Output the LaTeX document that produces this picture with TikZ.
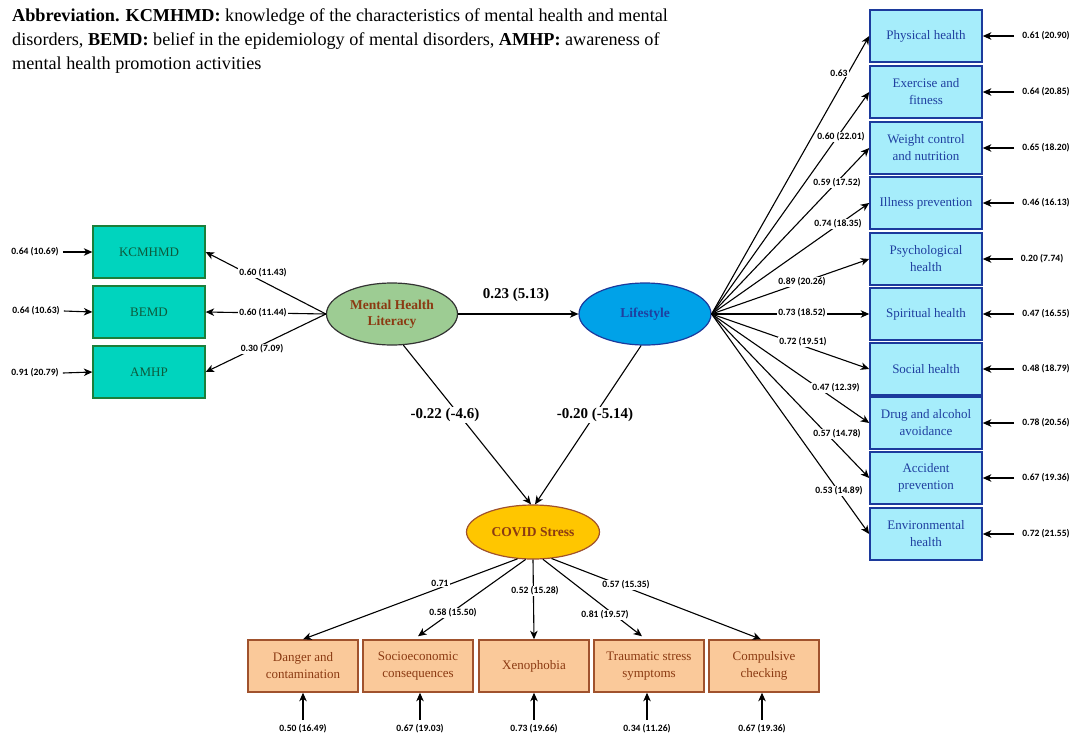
\documentclass[tikz,border=0pt]{standalone}
\usepackage{fontspec}
\setmainfont{Liberation Serif}
\newfontfamily\labfont{Carlito}
\usetikzlibrary{arrows.meta,shapes.geometric}
\definecolor{tealf}{HTML}{00D4BE}
\definecolor{tealbd}{HTML}{1B7F3A}
\definecolor{tealtx}{HTML}{0D5A3C}
\definecolor{cyanf}{HTML}{A6EDFB}
\definecolor{bluebd}{HTML}{1C3A9C}
\definecolor{bluetx}{HTML}{1F3FA0}
\definecolor{peach}{HTML}{FAC99A}
\definecolor{brownbd}{HTML}{A0522D}
\definecolor{browntx}{HTML}{8B3A12}
\definecolor{mhlf}{HTML}{9DCC93}
\definecolor{lsf}{HTML}{00A2E8}
\definecolor{csf}{HTML}{FFC600}
\tikzset{
  boxtext/.style={font=\fontsize{13}{17}\selectfont, align=center, inner sep=2pt},
  lbox/.style={boxtext, draw=tealbd, fill=tealf, line width=1.3pt, minimum width=112pt, minimum height=52pt, text=tealtx},
  rbox/.style={boxtext, draw=bluebd, fill=cyanf, line width=1.6pt, minimum width=112pt, minimum height=52pt, text=bluetx},
  bbox/.style={boxtext, draw=brownbd, fill=peach, line width=1.5pt, minimum width=110pt, minimum height=52pt, text=browntx},
  lat/.style={ellipse, line width=1.2pt, inner sep=0pt, align=center, font=\bfseries\fontsize{13.5}{16}\selectfont},
  lab/.style={font=\labfont\bfseries\fontsize{9.6}{11}\selectfont, inner sep=1pt},
  labw/.style={lab, fill=white},
  big/.style={font=\bfseries\fontsize{15}{17}\selectfont, inner sep=1.5pt, fill=white},
  arr/.style={-{Stealth[length=8.5pt,width=7.5pt,inset=2.5pt]}, line width=1.1pt}
}
\begin{document}
\begin{tikzpicture}[x=1pt,y=-1pt]
\useasboundingbox (0,0) rectangle (1071,737);
\node[anchor=north west, align=left, inner sep=0pt, font=\fontsize{18.2}{24}\selectfont] (abbr) at (12,8)
 {\textbf{Abbreviation. KCMHMD:} knowledge of the characteristics of mental health and mental\\
  disorders, \textbf{BEMD:} belief in the epidemiology of mental disorders, \textbf{AMHP:} awareness of\\
  mental health promotion activities};

% latent variables
\node[lat, draw=black!80, fill=mhlf, text=browntx, minimum width=131pt, minimum height=62pt] (mhl) at (392,314) {Mental Health\\Literacy};
\node[lat, draw=bluebd, fill=lsf, text=bluetx, minimum width=132pt, minimum height=62pt] (ls) at (645,314) {Lifestyle};
\node[lat, draw=brownbd, fill=csf, text=browntx, minimum width=133pt, minimum height=54pt] (cs) at (533,532) {COVID Stress};

% left boxes
\node[lbox] (kc) at (149,252) {KCMHMD};
\node[lbox] (be) at (149,312) {BEMD};
\node[lbox] (am) at (149,372) {AMHP};

% right boxes
\node[rbox] (r1) at (926,36) {Physical health};
\node[rbox] (r2) at (926,92) {Exercise and\\fitness};
\node[rbox] (r3) at (926,148) {Weight control\\and nutrition};
\node[rbox] (r4) at (926,203) {Illness prevention};
\node[rbox] (r5) at (926,259) {Psychological\\health};
\node[rbox] (r6) at (926,314) {Spiritual health};
\node[rbox] (r7) at (926,369) {Social health};
\node[rbox] (r8) at (926,423) {Drug and alcohol\\avoidance};
\node[rbox] (r9) at (926,478) {Accident\\prevention};
\node[rbox] (r10) at (926,534) {Environmental\\health};

% bottom boxes
\node[bbox] (b1) at (303,666) {Danger and\\contamination};
\node[bbox] (b2) at (418,666) {Socioeconomic\\consequences};
\node[bbox] (b3) at (534,666) {Xenophobia};
\node[bbox] (b4) at (649,666) {Traumatic stress\\symptoms};
\node[bbox] (b5) at (764,666) {Compulsive\\checking};

% structural paths
\draw[arr] (mhl.east) -- (ls.west);
\draw[arr] (mhl.290) -- ([xshift=-2pt]cs.north);
\draw[arr] (ls.263) -- ([xshift=2pt]cs.north);

% MHL indicators
\draw[arr] (mhl.west) -- (kc.east);
\draw[arr] (mhl.west) -- (be.east);
\draw[arr] (mhl.west) -- (am.east);

% Lifestyle indicators
\foreach \i in {1,...,10} {\draw[arr] (ls.east) -- (r\i.west);}

% COVID indicators
\draw[arr] (cs.240) -- (b1.north);
\draw[arr] (cs.255) -- ([yshift=3pt]b2.north);
\draw[arr] (cs.south) -- (b3.north);
\draw[arr] (cs.290) -- ([xshift=-7pt,yshift=3pt]b4.north);
\draw[arr] (cs.305) -- ([xshift=-3pt]b5.north);

% path labels
\node[big, fill=none] (p1) at (516,295) {0.23 (5.13)};
\node[big] (p2) at (445,415) {-0.22 (-4.6)};
\node[big] (p3) at (595,415) {-0.20 (-5.14)};

\node[labw] (lk1) at (263,273) {0.60 (11.43)};
\node[labw] (lk2) at (263,313) {0.60 (11.44)};
\node[labw] (lk3) at (262,349) {0.30 (7.09)};

\node[labw] (lr1) at (839,73) {0.63};
\node[labw] (lr2) at (841,137) {0.60 (22.01)};
\node[labw] (lr3) at (837,183) {0.59 (17.52)};
\node[labw] (lr4) at (838,224) {0.74 (18.35)};
\node[labw] (lr5) at (802,282) {0.89 (20.26)};
\node[labw] (lr6) at (802,313) {0.73 (18.52)};
\node[labw] (lr7) at (803,342) {0.72 (19.51)};
\node[labw] (lr8) at (836,388) {0.47 (12.39)};
\node[labw] (lr9) at (837,434) {0.57 (14.78)};
\node[labw] (lr10) at (839,491) {0.53 (14.89)};

\node[labw] (lb1) at (440,583) {0.71};
\node[labw] (lb2) at (453,613) {0.58 (15.50)};
\node[labw] (lb3) at (535,591) {0.52 (15.28)};
\node[labw] (lb4) at (605,615) {0.81 (19.57)};
\node[labw] (lb5) at (626,585) {0.57 (15.35)};

% error terms left
\node[lab] (el1) at (35,252) {0.64 (10.69)};
\node[lab] (el2) at (36,311) {0.64 (10.63)};
\node[lab] (el3) at (35,373) {0.91 (20.79)};
\draw[arr] ([xshift=3pt]el1.east) -- (kc.west);
\draw[arr] ([xshift=3pt]el2.east) -- (be.west);
\draw[arr] ([xshift=3pt]el3.east) -- (am.west);

% error terms right
\node[lab] (er1) at (1046,36) {0.61 (20.90)};
\node[lab] (er2) at (1046,92) {0.64 (20.85)};
\node[lab] (er3) at (1046,148) {0.65 (18.20)};
\node[lab] (er4) at (1046,203) {0.46 (16.13)};
\node[lab] (er5) at (1042,259) {0.20 (7.74)};
\node[lab] (er6) at (1046,314) {0.47 (16.55)};
\node[lab] (er7) at (1046,369) {0.48 (18.79)};
\node[lab] (er8) at (1046,423) {0.78 (20.56)};
\node[lab] (er9) at (1046,478) {0.67 (19.36)};
\node[lab] (er10) at (1046,534) {0.72 (21.55)};
\foreach \i in {1,...,10} {\draw[arr] ([xshift=-7pt]er\i.west) -- (r\i.east);}

% error terms bottom
\node[lab] (eb1) at (303,729) {0.50 (16.49)};
\node[lab] (eb2) at (420,729) {0.67 (19.03)};
\node[lab] (eb3) at (534,729) {0.73 (19.66)};
\node[lab] (eb4) at (647,729) {0.34 (11.26)};
\node[lab] (eb5) at (762,729) {0.67 (19.36)};
\foreach \i in {1,...,5} {\draw[arr] ([yshift=4pt]eb\i.north) -- (b\i.south -| eb\i.north);}
\end{tikzpicture}
\end{document}
